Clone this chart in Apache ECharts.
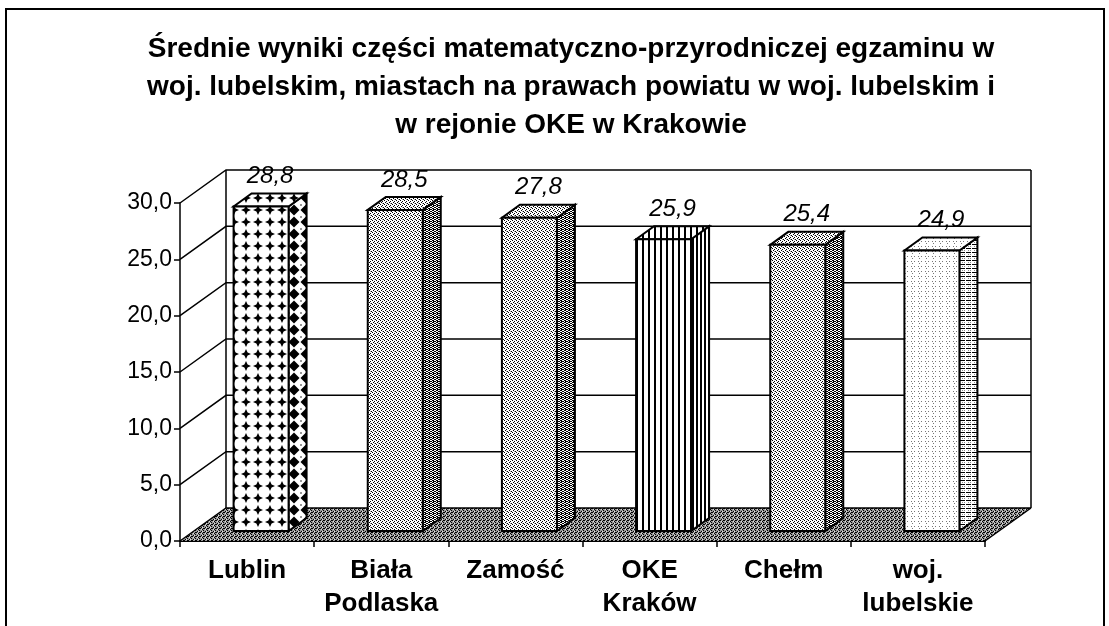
<!DOCTYPE html>
<html>
<head>
<meta charset="utf-8">
<script src="https://cdn.jsdelivr.net/npm/echarts@6/dist/echarts.min.js"></script>
<style>
  html, body { margin: 0; padding: 0; background: #fff; }
  #chart { width: 1109px; height: 626px; }
</style>
</head>
<body>
<div id="chart"></div>
<script>
// dane wykresu
const categories = ['Lublin', 'Biała\nPodlaska', 'Zamość', 'OKE\nKraków', 'Chełm', 'woj.\nlubelskie'];
const scores = [28.8, 28.5, 27.8, 25.9, 25.4, 24.9];
const yTicks = [0, 5, 10, 15, 20, 25, 30];
const titleText = 'Średnie wyniki części matematyczno-przyrodniczej egzaminu w\nwoj. lubelskim, miastach na prawach powiatu w woj. lubelskim i\nw rejonie OKE w Krakowie';

// głębokość "3D" (piksele)
const DX = 46, DY = -33;
const FX = 14, FY = -10;   // przesunięcie przedniej ściany słupka
const BX = 18, BY = -13;   // głębokość słupka
const FONT = '"Liberation Sans", Arial, sans-serif';

function fmt(v) {
  return v.toFixed(1).replace('.', ',');
}

// kafelki wzorów
function tile(w, h, bg, draw) {
  const c = document.createElement('canvas');
  c.width = w; c.height = h;
  const ctx = c.getContext('2d');
  ctx.fillStyle = bg;
  ctx.fillRect(0, 0, w, h);
  ctx.fillStyle = '#000';
  draw(ctx);
  return { image: c, repeat: 'repeat' };
}
function px(ctx, list) {
  list.forEach(p => ctx.fillRect(p[0], p[1], 1, 1));
}

const starFront = tile(12, 12, '#fff', ctx => {
  ctx.beginPath();
  ctx.moveTo(6, 1); ctx.lineTo(7.6, 4.4); ctx.lineTo(11, 6); ctx.lineTo(7.6, 7.6);
  ctx.lineTo(6, 11); ctx.lineTo(4.4, 7.6); ctx.lineTo(1, 6); ctx.lineTo(4.4, 4.4);
  ctx.closePath(); ctx.fill();
});
const starSide = tile(12, 12, '#fff', ctx => {
  ctx.beginPath();
  ctx.moveTo(6, 0.5); ctx.lineTo(11.5, 6); ctx.lineTo(6, 11.5); ctx.lineTo(0.5, 6);
  ctx.closePath(); ctx.fill();
  ctx.fillStyle = '#999';
  ctx.fillRect(0, 0, 2, 2);
});
const stippleLight = tile(4, 4, '#fff', ctx => {
  px(ctx, [[0, 0], [2, 1], [3, 3], [1, 2]]);
  ctx.fillStyle = '#aaa';
  px(ctx, [[2, 3]]);
});
const stippleDark = tile(4, 4, '#fff', ctx => {
  px(ctx, [[0, 0], [1, 0], [2, 1], [3, 1], [1, 2], [0, 2], [3, 3], [2, 3], [1, 1]]);
});
const stripesFront = tile(6, 1, '#fff', ctx => {
  ctx.fillRect(0, 0, 2, 1);
});
const stripesSide = tile(4, 1, '#fff', ctx => {
  ctx.fillRect(0, 0, 2, 1);
});
const dotsLight = tile(7, 5, '#fff', ctx => {
  ctx.fillStyle = '#777';
  px(ctx, [[1, 1], [4, 1], [2, 3]]);
});
const dashSide = tile(6, 4, '#fff', ctx => {
  ctx.fillRect(0, 0, 5, 1);
  ctx.fillStyle = '#888';
  px(ctx, [[2, 2], [4, 2]]);
});
const floorFill = tile(4, 4, '#999', ctx => {
  px(ctx, [[0, 0], [2, 1], [1, 3], [3, 2], [3, 0]]);
  ctx.fillStyle = '#e0e0e0';
  px(ctx, [[1, 1], [2, 3]]);
});

// wzory ścian: przód, bok, góra
const barStyles = [
  [starFront, starSide, starFront],
  [stippleLight, stippleDark, stippleLight],
  [stippleLight, stippleDark, stippleLight],
  [stripesFront, stripesSide, stripesFront],
  [stippleLight, stippleDark, stippleLight],
  [dotsLight, dashSide, dotsLight]
];

// tylna ściana, podłoga i linie siatki
function renderWall(params, api) {
  const v = api.value(1);
  const band = api.size([1, 0])[0];
  const p0 = api.coord([0, v]);
  const pN = api.coord([categories.length - 1, v]);
  const xL = p0[0] - band / 2, xR = pN[0] + band / 2, y = p0[1];
  const children = [];
  const line = { stroke: '#000', lineWidth: 1.5, fill: null };
  if (v === yTicks[0]) {
    const yTop = api.coord([0, yTicks[yTicks.length - 1]])[1];
    children.push({
      type: 'polygon',
      shape: { points: [[xL, y], [xL + DX, y + DY], [xR + DX, y + DY], [xR, y]] },
      style: { fill: floorFill, stroke: null }
    });
    children.push({ type: 'line', shape: { x1: xL + DX, y1: y + DY, x2: xL + DX, y2: yTop + DY }, style: line });
    children.push({ type: 'line', shape: { x1: xR + DX, y1: y + DY, x2: xR + DX, y2: yTop + DY }, style: line });
    children.push({ type: 'line', shape: { x1: xR, y1: y, x2: xR + DX, y2: y + DY }, style: line });
  }
  children.push({
    type: 'polyline',
    shape: { points: [[xL, y], [xL + DX, y + DY], [xR + DX, y + DY]] },
    style: line
  });
  return { type: 'group', children: children };
}

// słupki 3D
function renderBar(params, api) {
  const i = api.value(0);
  const v = api.value(1);
  const band = api.size([1, 0])[0];
  const top = api.coord([i, v]);
  const base = api.coord([i, 0]);
  const w = band * 0.41;
  const xl = top[0] - w / 2 + FX, xr = top[0] + w / 2 + FX;
  const yt = top[1] + FY, yb = base[1] + FY;
  const s = barStyles[params.dataIndex];
  const edge = { stroke: '#000', lineWidth: 2, lineJoin: 'miter' };
  return {
    type: 'group',
    children: [
      {
        type: 'polygon',
        shape: { points: [[xr, yt], [xr + BX, yt + BY], [xr + BX, yb + BY], [xr, yb]] },
        style: Object.assign({ fill: s[1] }, edge)
      },
      {
        type: 'polygon',
        shape: { points: [[xl, yt], [xl + BX, yt + BY], [xr + BX, yt + BY], [xr, yt]] },
        style: Object.assign({ fill: s[2] }, edge)
      },
      {
        type: 'rect',
        shape: { x: xl, y: yt, width: xr - xl, height: yb - yt },
        style: Object.assign({ fill: s[0] }, edge)
      },
      {
        type: 'text',
        style: {
          text: fmt(v),
          x: (xl + xr) / 2 + BX / 2,
          y: yt - 30,
          align: 'center',
          verticalAlign: 'middle',
          fontSize: 24,
          fontStyle: 'italic',
          fontFamily: FONT,
          fill: '#000'
        }
      }
    ]
  };
}

const chart = echarts.init(document.getElementById('chart'), null, { renderer: 'canvas' });

const option = {
  backgroundColor: '#fff',
  animation: false,
  title: {
    text: titleText,
    left: 566,
    top: 25,
    textAlign: 'center',
    textStyle: {
      fontFamily: FONT,
      fontSize: 28,
      fontWeight: 'bold',
      lineHeight: 38,
      color: '#000'
    }
  },
  graphic: [{
    type: 'rect',
    shape: { x: 6, y: 9, width: 1098, height: 640 },
    style: { fill: null, stroke: '#000', lineWidth: 2 },
    silent: true
  }],
  grid: { left: 180, right: 124, top: 203, bottom: 85 },
  xAxis: {
    type: 'category',
    data: categories,
    boundaryGap: true,
    axisLine: { lineStyle: { color: '#000', width: 2 } },
    axisTick: { show: true, length: 6, interval: 0, lineStyle: { color: '#000', width: 1.5 } },
    axisLabel: {
      interval: 0,
      margin: 13,
      color: '#000',
      fontFamily: FONT,
      fontSize: 26,
      fontWeight: 'bold',
      lineHeight: 33
    }
  },
  yAxis: {
    type: 'value',
    min: yTicks[0],
    max: yTicks[yTicks.length - 1],
    interval: 5,
    axisLine: { show: true, lineStyle: { color: '#000', width: 1.5 } },
    axisTick: { show: true, length: 6, lineStyle: { color: '#000', width: 1.5 } },
    splitLine: { show: false },
    axisLabel: {
      color: '#000',
      fontFamily: FONT,
      fontSize: 23,
      margin: 8,
      formatter: v => fmt(v)
    }
  },
  series: [
    {
      type: 'custom',
      name: 'siatka',
      z: 1,
      clip: false,
      silent: true,
      renderItem: renderWall,
      encode: { x: 0, y: 1 },
      data: yTicks.map(v => [0, v])
    },
    {
      type: 'custom',
      name: 'wyniki',
      z: 3,
      clip: false,
      renderItem: renderBar,
      encode: { x: 0, y: 1 },
      data: scores.map((v, i) => [i, v])
    }
  ]
};

chart.setOption(option);
</script>
</body>
</html>
